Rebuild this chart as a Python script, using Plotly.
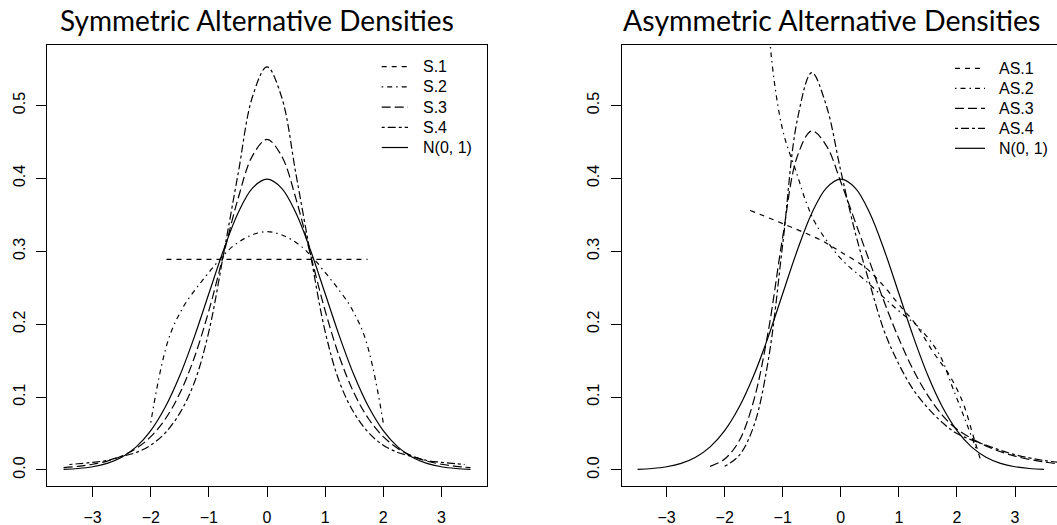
import plotly.graph_objects as go

W, H = 1057, 525

# ---------------- data ----------------
norm_x = [-3.5, -3.25, -3.0, -2.75, -2.5, -2.25, -2.0, -1.75, -1.5, -1.25, -1.0, -0.75, -0.5, -0.25, 0.0,
          0.25, 0.5, 0.75, 1.0, 1.25, 1.5, 1.75, 2.0, 2.25, 2.5, 2.75, 3.0, 3.25, 3.5]
norm_y = [0.0009, 0.0020, 0.0044, 0.0091, 0.0175, 0.0317, 0.0540, 0.0863, 0.1295, 0.1826, 0.2420, 0.3011, 0.3521, 0.3867, 0.3989,
          0.3867, 0.3521, 0.3011, 0.2420, 0.1826, 0.1295, 0.0863, 0.0540, 0.0317, 0.0175, 0.0091, 0.0044, 0.0020, 0.0009]

s1_x = [-1.73, 1.73]
s1_y = [0.289, 0.289]

s2_x = [-2.0, -1.9, -1.8, -1.7, -1.6, -1.5, -1.4, -1.2, -1.0, -0.8, -0.6, -0.4, -0.2, 0.0,
        0.2, 0.4, 0.6, 0.8, 1.0, 1.2, 1.4, 1.5, 1.6, 1.7, 1.8, 1.9, 2.0]
s2_y = [0.065, 0.110, 0.148, 0.178, 0.199, 0.215, 0.229, 0.251, 0.271, 0.290, 0.306, 0.317, 0.324, 0.327,
        0.324, 0.317, 0.306, 0.290, 0.271, 0.251, 0.229, 0.215, 0.199, 0.178, 0.148, 0.110, 0.065]

s3_x = [-3.5, -3.25, -3.0, -2.75, -2.5, -2.25, -2.0, -1.75, -1.5, -1.25, -1.0, -0.75, -0.5, -0.25, 0.0,
        0.25, 0.5, 0.75, 1.0, 1.25, 1.5, 1.75, 2.0, 2.25, 2.5, 2.75, 3.0, 3.25, 3.5]
s3_y = [0.0032, 0.0050, 0.0078, 0.0122, 0.0191, 0.0296, 0.0457, 0.0699, 0.1051, 0.1543, 0.2186, 0.2948, 0.3716, 0.4309, 0.4534,
        0.4309, 0.3716, 0.2948, 0.2186, 0.1543, 0.1051, 0.0699, 0.0457, 0.0296, 0.0191, 0.0122, 0.0078, 0.0050, 0.0032]

s4_x = [-3.4, -3.25, -3.0, -2.75, -2.5, -2.25, -2.0, -1.75, -1.5, -1.25, -1.0, -0.75, -0.5, -0.25, 0.0,
        0.25, 0.5, 0.75, 1.0, 1.25, 1.5, 1.75, 2.0, 2.25, 2.5, 2.75, 3.0, 3.25, 3.4]
s4_y = [0.0075, 0.0085, 0.0105, 0.0130, 0.0185, 0.0240, 0.0340, 0.0510, 0.0780, 0.1200, 0.1900, 0.2950, 0.4050, 0.5120, 0.5530,
        0.5120, 0.4050, 0.2950, 0.1900, 0.1200, 0.0780, 0.0510, 0.0340, 0.0240, 0.0185, 0.0130, 0.0105, 0.0085, 0.0075]

as1_x = [-1.56, -0.34, 0.0, 0.42, 0.71, 1.0, 1.29, 1.58, 1.87, 2.10, 2.28, 2.42]
as1_y = [0.356, 0.315, 0.299, 0.278, 0.255, 0.227, 0.200, 0.163, 0.130, 0.093, 0.047, 0.010]

as2_x = [-1.26, -1.2, -1.0, -0.76, -0.59, -0.42, 0.0, 0.42, 1.0, 1.35, 1.70, 1.93, 2.16, 2.35]
as2_y = [0.66, 0.57, 0.466, 0.407, 0.366, 0.336, 0.29, 0.26, 0.218, 0.195, 0.158, 0.112, 0.065, 0.025]

as3_x = [-2.25, -2.0, -1.75, -1.5, -1.25, -1.0, -0.75, -0.5, -0.25, 0.0, 0.25, 0.5, 0.75, 1.0,
         1.25, 1.5, 1.75, 2.0, 2.5, 3.0, 3.5, 3.8]
as3_y = [0.005, 0.015, 0.040, 0.095, 0.190, 0.320, 0.430, 0.465, 0.445, 0.395, 0.340, 0.285, 0.230, 0.180,
         0.137, 0.102, 0.075, 0.056, 0.033, 0.019, 0.011, 0.008]

as4_x = [-2.0, -1.75, -1.5, -1.25, -1.0, -0.75, -0.5, -0.25, 0.0, 0.25, 0.5, 0.75, 1.0,
         1.25, 1.5, 1.75, 2.0, 2.5, 3.0, 3.5, 3.8]
as4_y = [0.005, 0.020, 0.060, 0.150, 0.310, 0.480, 0.545, 0.500, 0.410, 0.325, 0.255, 0.190, 0.145,
         0.110, 0.085, 0.065, 0.050, 0.034, 0.021, 0.013, 0.010]

y_ticks = [0.0, 0.1, 0.2, 0.3, 0.4, 0.5]
y_ticktext = ["0.0", "0.1", "0.2", "0.3", "0.4", "0.5"]
x_ticks = [-3, -2, -1, 0, 1, 2, 3]

left_names = ["S.1", "S.2", "S.3", "S.4", "N(0, 1)"]
right_names = ["AS.1", "AS.2", "AS.3", "AS.4", "N(0, 1)"]
titles = ["Symmetric Alternative Densities", "Asymmetric Alternative Densities"]

# ---------------- styles ----------------
DASHED = "5px,5px"
DOTDASH = "1.5px,4px,5px,4px"
LONGDASH = "9px,4px"
TWODASH = "3px,3px,8px,3px"
dashes = [DASHED, DOTDASH, LONGDASH, TWODASH, "solid"]
FONT = "Liberation Sans, Arial, sans-serif"
TICKFONT = dict(family=FONT, size=16, color="black")
LW = 1.2

fig = go.Figure()

left_data = [(s1_x, s1_y), (s2_x, s2_y), (s3_x, s3_y), (s4_x, s4_y), (norm_x, norm_y)]
right_data = [(as1_x, as1_y), (as2_x, as2_y), (as3_x, as3_y), (as4_x, as4_y), (norm_x, norm_y)]

for i, ((xs, ys), nm) in enumerate(zip(left_data, left_names)):
    fig.add_trace(go.Scatter(x=xs, y=ys, mode="lines", name=nm, xaxis="x", yaxis="y", showlegend=False,
                             hoverinfo="skip",
                             line=dict(color="black", width=LW, dash=dashes[i],
                                       shape="linear" if i == 0 else "spline", smoothing=1.0)))
for i, ((xs, ys), nm) in enumerate(zip(right_data, right_names)):
    fig.add_trace(go.Scatter(x=xs, y=ys, mode="lines", name=nm, xaxis="x2", yaxis="y2", showlegend=False,
                             hoverinfo="skip",
                             line=dict(color="black", width=LW, dash=dashes[i], shape="spline", smoothing=1.0)))

ydom = [1 - 486.3 / H, 1 - 45.4 / H]
common_x = dict(tickvals=x_ticks, ticks="outside", ticklen=10, tickwidth=1, tickcolor="black",
                showline=True, linecolor="black", linewidth=1, showgrid=False, zeroline=False,
                tickfont=TICKFONT, ticklabelstandoff=6)
common_y = dict(tickvals=y_ticks, ticktext=y_ticktext, range=[-0.0224, 0.5824], domain=ydom,
                ticks="outside", ticklen=10, tickwidth=1, tickcolor="black", tickangle=-90,
                showline=True, linecolor="black", linewidth=1, showgrid=False, zeroline=False,
                tickfont=TICKFONT, ticklabelstandoff=5)

fig.update_layout(
    width=W, height=H, margin=dict(l=0, r=0, t=0, b=0),
    paper_bgcolor="white", plot_bgcolor="white", showlegend=False,
    xaxis=dict(domain=[47.3 / W, 486.7 / W], range=[-3.78, 3.78], anchor="y", mirror=True, **common_x),
    yaxis=dict(anchor="x", mirror=True, **common_y),
    xaxis2=dict(domain=[621.6 / W, 1.0], range=[-3.775, 3.723], anchor="y2", mirror=True, **common_x),
    yaxis2=dict(anchor="x2", mirror=False, **common_y),
)

# ---------------- hand-built legends (R style, no box) ----------------
def add_legend(names, x0, x1, xt, y0, dy):
    for i, nm in enumerate(names):
        yy = 1 - (y0 + i * dy) / H
        fig.add_shape(type="line", xref="paper", yref="paper", x0=x0 / W, x1=x1 / W, y0=yy, y1=yy,
                      line=dict(color="black", width=LW, dash=dashes[i]))
        fig.add_annotation(text=nm, xref="paper", yref="paper", x=xt / W, y=yy, xanchor="left",
                           yanchor="middle", showarrow=False, font=dict(family=FONT, size=16, color="black"))

add_legend(left_names, 381.7, 408.0, 421.0, 66.7, 20.2)
add_legend(right_names, 955.0, 985.0, 997.0, 68.3, 20.0)

for cx, t, fs in zip([257, 831], titles, [28, 28.5]):
    fig.add_annotation(text=t, xref="paper", yref="paper", x=cx / W, y=1 - 20 / H,
                       xanchor="center", yanchor="middle", showarrow=False,
                       font=dict(family="Lato, sans-serif", size=fs, color="black"))

# remove the page's default 8px body margin so the figure sits at the window's corner
fig.write_html("out.html", config={"displayModeBar": False, "staticPlot": True},
               post_script="document.body.style.margin='0px';document.body.style.overflow='hidden';")
